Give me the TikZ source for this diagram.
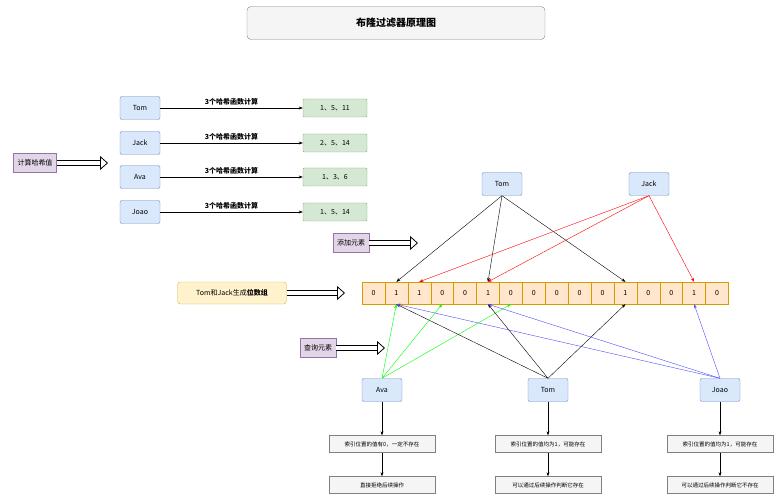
\documentclass[tikz,border=0pt]{standalone}
\usepackage{fontspec}
\setmainfont{Noto Sans CJK SC}
\usetikzlibrary{arrows.meta}
\definecolor{blueF}{HTML}{DAE8FC}\definecolor{blueD}{HTML}{6C8EBF}
\definecolor{greenF}{HTML}{D5E8D4}\definecolor{greenD}{HTML}{82B366}
\definecolor{purF}{HTML}{E1D5E7}\definecolor{purD}{HTML}{9673A6}
\definecolor{orF}{HTML}{FFE6CC}\definecolor{orD}{HTML}{D79B00}
\definecolor{yeF}{HTML}{FFF2CC}\definecolor{yeD}{HTML}{D6B656}
\begin{document}
\begin{tikzpicture}[
    x=1pt, y=-1pt,
    font=\fontsize{7}{8}\selectfont,
    person/.style = {draw=blueD, fill=blueF, rounded corners=2pt, minimum width=40pt, minimum height=23pt},
    hash/.style = {draw=greenD, fill=greenF, rounded corners=1pt, minimum width=64pt, minimum height=18pt},
    tag/.style = {draw=purD, fill=purF, minimum height=19pt, inner xsep=4pt},
    cell/.style = {draw=orD, fill=orF, minimum width=22.9pt, minimum height=22pt, inner sep=0pt},
    note/.style = {draw=gray, fill=gray!8, minimum width=106pt, minimum height=17pt, font=\fontsize{5.5}{6}\selectfont},
    link/.style = {-{Stealth[length=4pt]}, thin},
    big/.style = {double, double distance=4pt, -{Triangle[open, length=8pt, width=14pt]}, thick}
]
\useasboundingbox (0,0) rectangle (780,500);
\node[draw=gray, fill=gray!8, rounded corners=4pt, minimum width=298pt, minimum height=33pt, font=\bfseries\fontsize{10}{12}\selectfont] (title) at (396,23) {布隆过滤器原理图};
% hashing
\foreach \n/\v/\y in {Tom/{1、5、11}/108, Jack/{2、5、14}/143, Ava/{1、3、6}/177, Joao/{1、5、14}/212} {
    \node[person] (h\n) at (140,\y) {\n};
    \node[hash] (v\n) at (335,\y) {\v};
    \draw[link] (h\n) -- node[above=-1pt, font=\bfseries\fontsize{7}{8}\selectfont]{3个哈希函数计算} (v\n);
}
\node[tag] (calc) at (35,163) {计算哈希值};
\coordinate (calcE) at (108,163);
\draw[big] (calc) -- (calcE);
% bit array
\foreach \b [count=\i from 0] in {0,1,1,0,0,1,0,0,0,0,0,1,0,0,1,0}
    \node[cell] (c\i) at (373.5+22.9*\i,293) {\b};
\node[draw=yeD, fill=yeF, rounded corners=3pt, minimum width=109pt, minimum height=22pt] (gen) at (232,293) {Tom和Jack生成\textbf{位数组}};
\coordinate (genE) at (345,293);
\draw[big] (gen) -- (genE);
% adding
\node[person] (aTom) at (502,184) {Tom};
\node[person] (aJack) at (649,184) {Jack};
\node[tag] (add) at (351,243) {添加元素};
\coordinate (addE) at (418,243);
\draw[big] (add) -- (addE);
\foreach \i in {1,5,11} \draw[link] (aTom.south) -- (c\i.north);
\foreach \i in {2,5,14} \draw[link, red] (aJack.south) -- (c\i.north);
% querying
\node[tag] (ask) at (318,348) {查询元素};
\coordinate (askE) at (385,348);
\draw[big] (ask) -- (askE);
\node[person] (qAva) at (382,390) {Ava};
\node[person] (qTom) at (548,390) {Tom};
\node[person] (qJoao) at (720,390) {Joao};
\foreach \i in {1,3,6} \draw[link, green] (qAva.north) -- (c\i.south);
\foreach \i in {1,5,11} \draw[link] (qTom.north) -- (c\i.south);
\foreach \i in {1,5,14} \draw[link, blue!70] (qJoao.north) -- (c\i.south);
% results
\node[note] (rAva) at (382,444) {索引位置的值有0，一定不存在};
\node[note] (sAva) at (382,485) {直接拒绝后续操作};
\node[note] (rTom) at (548,444) {索引位置的值均为1，可能存在};
\node[note] (sTom) at (548,485) {可以通过后续操作判断它存在};
\node[note] (rJoao) at (720,444) {索引位置的值均为1，可能存在};
\node[note] (sJoao) at (720,485) {可以通过后续操作判断它不存在};
\foreach \n in {Ava,Tom,Joao} {
    \draw[link] (q\n) -- (r\n);
    \draw[link] (r\n) -- (s\n);
}
\end{tikzpicture}
\end{document}
